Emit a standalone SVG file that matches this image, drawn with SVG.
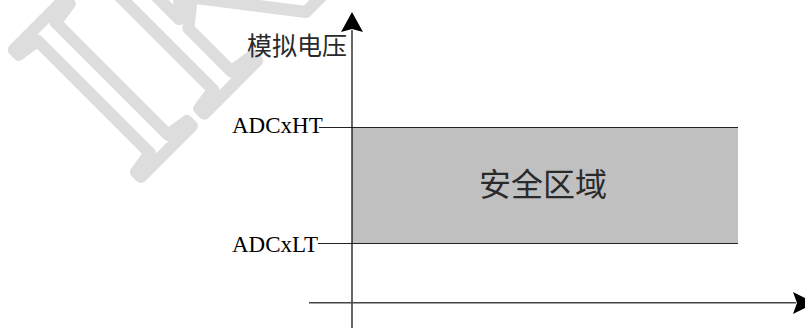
<svg xmlns="http://www.w3.org/2000/svg" width="805" height="329" viewBox="0 0 805 329">
<style>
.wm{font-family:"Liberation Serif",serif;font-size:275px;fill:#fff;stroke:#dddddd;stroke-width:12;stroke-linejoin:round}
.lbl{font-family:"Liberation Serif",serif;font-size:23px;fill:#000}
.cjk{font-family:"Noto Sans CJK SC",sans-serif;fill:#2a2a2a}
.ax{stroke:#000;stroke-width:1.2;fill:none}
.hl{stroke:#222;stroke-width:1.2;fill:none}
</style>
<rect width="805" height="329" fill="#fff"/>
<text class="wm" transform="translate(134,184) rotate(-45)">IK</text>
<g id="safe-zone">
<rect x="352" y="128" width="386" height="115" fill="#c0c0c0"/>
<text class="cjk" x="479" y="196" font-size="32">安全区域</text>
</g>
<g id="connectors">
<line class="hl" x1="319" y1="127.5" x2="738" y2="127.5"/>
<line class="hl" x1="318" y1="243.5" x2="738" y2="243.5"/>
<line class="ax" x1="352" y1="30" x2="352" y2="328"/>
<path d="M352,12 L363,32 L352,29 L341,32 Z" fill="#000"/>
<line x1="309" y1="302.7" x2="796" y2="302.7" stroke="#444" stroke-width="1.4"/>
<path d="M815,303 L793,292 L797,303 L793,314 Z" fill="#000"/>
</g>
<g id="y-label"><text class="cjk" x="247" y="55" font-size="25">模拟电压</text></g>
<g id="ht-label"><text class="lbl" x="232" y="133">ADCxHT</text></g>
<g id="lt-label"><text class="lbl" x="232" y="252">ADCxLT</text></g>
</svg>
